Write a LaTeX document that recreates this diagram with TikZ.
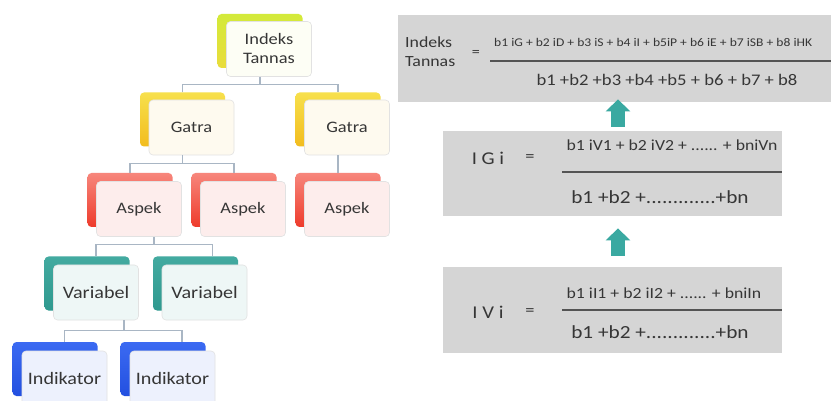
\documentclass[tikz,border=0pt]{standalone}
\usepackage{fontspec}
\setmainfont{Carlito}[FakeStretch=1.15]
\usetikzlibrary{arrows.meta,calc}
\definecolor{tnInk}{HTML}{363636}
\definecolor{tnEdge}{HTML}{E2E2E2}
\definecolor{tnLink}{HTML}{A9B6C4}
\definecolor{tnTeal}{HTML}{3AA9A1}
\definecolor{fxGray}{HTML}{D5D5D5}
\definecolor{HTML-D3EA3A}{HTML}{D3EA3A}
\definecolor{HTML-E9DC3C}{HTML}{E9DC3C}
\definecolor{HTML-F7E04C}{HTML}{F7E04C}
\definecolor{HTML-F2BC1E}{HTML}{F2BC1E}
\definecolor{HTML-F7867C}{HTML}{F7867C}
\definecolor{HTML-EE3B2B}{HTML}{EE3B2B}
\definecolor{HTML-43AAA0}{HTML}{43AAA0}
\definecolor{HTML-2F998F}{HTML}{2F998F}
\definecolor{HTML-3B6AF2}{HTML}{3B6AF2}
\definecolor{HTML-2350E0}{HTML}{2350E0}
\tikzset{
  tn back/.style={rounded corners=4pt, minimum width=85pt, minimum height=54pt, inner sep=0pt},
  tn front/.style={rounded corners=4pt, draw=tnEdge, line width=0.6pt, minimum width=85pt, minimum height=55pt, inner sep=2pt, align=center, text=tnInk, font=\fontsize{16}{19}\selectfont},
  tn big/.style={font=\fontsize{17.5}{20}\selectfont},
  tn link/.style={draw=tnLink, line width=1.2pt},
  lvl idx/.style={top color=HTML-D3EA3A, bottom color=HTML-E9DC3C},
  lvl gat/.style={top color=HTML-F7E04C, bottom color=HTML-F2BC1E},
  lvl asp/.style={top color=HTML-F7867C, bottom color=HTML-EE3B2B},
  lvl var/.style={top color=HTML-43AAA0, bottom color=HTML-2F998F},
  lvl ind/.style={top color=HTML-3B6AF2, bottom color=HTML-2350E0},
  fx box/.style={fill=fxGray, inner sep=0pt, anchor=north west},
  fx text/.style={text=tnInk, inner sep=0pt},
  fx rule/.style={draw=tnInk!85, line width=1.4pt},
  fx arrow/.style={draw=tnTeal, line width=14pt, -{Triangle[width=24pt,length=12pt]}},
}

\begin{document}
\begin{tikzpicture}[x=1pt,y=-1pt]
  \useasboundingbox (0,0) rectangle (831,401);
  \clip (0,0) rectangle (831,401);
  \fill[white] (0,0) rectangle (831,401);

  % tree on the left
  \node[tn back, lvl idx] (idxb) at (260,41) {};
  \node[tn front, fill=HTML-D3EA3A!5] (idx) at ($(idxb)+(9,8)$) {Indeks\\Tannas};
  \foreach \n/\x in {gatA/182.5, gatB/338}{
    \node[tn back, lvl gat] (\n b) at (\x,119.5) {};
    \node[tn front, fill=HTML-F2BC1E!7] (\n) at ($(\n b)+(9,8)$) {Gatra};
  }
  \foreach \n/\x in {aspA/130, aspB/234, aspC/338}{
    \node[tn back, lvl asp] (\n b) at (\x,200) {};
    \node[tn front, fill=HTML-EE3B2B!9] (\n) at ($(\n b)+(9,9)$) {Aspek};
  }
  \foreach \n/\x in {varA/87, varB/195.5}{
    \node[tn back, lvl var] (\n b) at (\x,283.5) {};
    \node[tn front, tn big, fill=HTML-2F998F!8] (\n) at ($(\n b)+(9,9)$) {Variabel};
  }
  \foreach \n/\x in {indA/55, indB/163}{
    \node[tn back, lvl ind] (\n b) at (\x,369) {};
    \node[tn front, tn big, fill=HTML-2350E0!8] (\n) at ($(\n b)+(9.5,9.5)$) {Indikator};
  }

  \draw[tn link] (idxb.center |- idx.south) -- ++(0,8) coordinate (jA);
  \draw[tn link] (gatAb.north) |- (jA) -| (gatBb.north);
  \draw[tn link] (gatAb.center |- gatA.south) -- ++(0,8) coordinate (jB);
  \draw[tn link] (aspAb.north) |- (jB) -| (aspBb.north);
  \draw[tn link] (gatBb.center |- gatB.south) -- (aspCb.north);
  \coordinate (dV) at ($(varB.north)+(8,0)$);
  \draw[tn link] ($(aspA.south)+(15,0)$) -- ++(0,8) coordinate (jC);
  \draw[tn link] (varA.north |- varAb.north) |- (jC) -| (dV |- varBb.north);
  \coordinate (dI) at ($(indB.north)+(9.5,0)$);
  \draw[tn link] ($(varA.south)+(28,0)$) -- ++(0,10) coordinate (jD);
  \draw[tn link] (indA.north |- indAb.north) |- (jD) -| (dI |- indBb.north);

  % formulas on the right
  \node[fx box, minimum width=445pt, minimum height=87pt] (fTop) at (398,15) {};
  \node[fx box, minimum width=339pt, minimum height=85pt] (fG) at (443,131) {};
  \node[fx box, minimum width=339pt, minimum height=86pt] (fV) at (443,267) {};

  \node[fx text, anchor=west, align=left, font=\fontsize{15.5}{19}\selectfont] (tLeft) at (405,52) {Indeks\\Tannas};
  \node[fx text, font=\fontsize{14}{14}\selectfont] (tEq) at (476,53) {=};
  \node[fx text, anchor=west, font=\fontsize{11.8}{14}\selectfont] (tNum) at (494,42) {b1 iG + b2 iD + b3 iS + b4 iI + b5iP + b6 iE + b7 iSB + b8 iHK};
  \draw[fx rule] (490,61) -- (840,61);
  \node[fx text, font=\fontsize{16.2}{20}\selectfont] (tDen) at (667,80) {b1 +b2 +b3 +b4 +b5 + b6 + b7 + b8};

  \node[fx text, font=\fontsize{18}{20}\selectfont] (gLeft) at (488,158) {I G i};
  \node[fx text, font=\fontsize{16}{16}\selectfont] (gEq) at (530,158) {=};
  \node[fx text, font=\fontsize{15.4}{16}\selectfont] (gNum) at (672,145) {b1 iV1 + b2 iV2 + ...... + bniVn};
  \draw[fx rule] (562,172) -- (782,172);
  \node[fx text, font=\fontsize{18.5}{20}\selectfont] (gDen) at (660,197) {b1 +b2 +.............+bn};

  \node[fx text, font=\fontsize{18}{20}\selectfont] (vLeft) at (488,312) {I V i};
  \node[fx text, font=\fontsize{16}{16}\selectfont] (vEq) at (530,312) {=};
  \node[fx text, font=\fontsize{15.4}{16}\selectfont] (vNum) at (664,293) {b1 iI1 + b2 iI2 + ...... + bniIn};
  \draw[fx rule] (562,310) -- (782,310);
  \node[fx text, font=\fontsize{18.5}{20}\selectfont] (vDen) at (660,332) {b1 +b2 +.............+bn};

  \coordinate (aX) at (618,0);
  \draw[fx arrow] ($(fG.north -| aX)+(0,-4)$) -- ($(fTop.south -| aX)+(0,-3)$);
  \draw[fx arrow] ($(fV.north -| aX)+(0,-11)$) -- ($(fG.south -| aX)+(0,12)$);
\end{tikzpicture}
\end{document}
